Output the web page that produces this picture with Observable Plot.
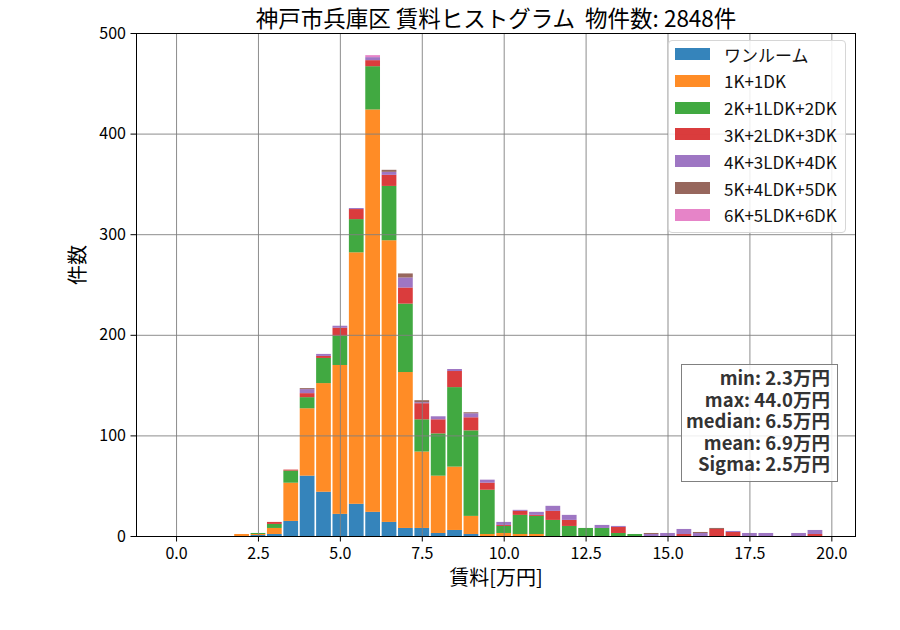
<!DOCTYPE html>
<html>
<head>
<meta charset="utf-8">
<script src="https://cdn.jsdelivr.net/npm/d3@7"></script>
<script src="https://cdn.jsdelivr.net/npm/@observablehq/plot@0.6"></script>
<style>
  body { margin: 0; background: #fff; font-family: "Noto Sans CJK JP", "Noto Sans", sans-serif; }
  #wrap { position: relative; width: 900px; height: 630px; }
  .legend { position: absolute; left: 668px; top: 40px; width: 178px; height: 193px;
    border: 1px solid #d6d6d6; border-radius: 4px; background: rgba(255,255,255,0.85); box-sizing: border-box; }
  .legend .row { position: absolute; left: 6px; height: 20px; display: flex; align-items: center; font-size: 17px; color: #111; }
  .legend .sw { width: 35px; height: 12px; margin-right: 14px; }
  .stats { position: absolute; left: 681px; top: 364px; width: 157px; height: 118px; box-sizing: border-box;
    border: 1px solid #808080; background: rgba(255,255,255,0.85); text-align: right; padding: 2px 7px 0 0;
    font-weight: bold; font-size: 18.5px; line-height: 21.6px; color: #333; }
</style>
</head>
<body>
<div id="wrap"></div>
<script>
// ---- data ----
const title = "神戸市兵庫区 賃料ヒストグラム  物件数: 2848件";
const xLabel = "賃料[万円]";
const yLabel = "件数";
const types = ["ワンルーム", "1K+1DK", "2K+1LDK+2DK", "3K+2LDK+3DK", "4K+3LDK+4DK", "5K+4LDK+5DK", "6K+5LDK+6DK"];
const colors = ["#1f77b4", "#ff7f0e", "#2ca02c", "#d62728", "#9467bd", "#8c564b", "#e377c2"];
// bin centres (width 0.5)
const bins = [2.0, 2.5, 3.0, 3.5, 4.0, 4.5, 5.0, 5.5, 6.0, 6.5, 7.0, 7.5, 8.0, 8.5, 9.0, 9.5,
  10.0, 10.5, 11.0, 11.5, 12.0, 12.5, 13.0, 13.5, 14.0, 14.5, 15.0, 15.5, 16.0, 16.5, 17.0, 17.5,
  18.0, 18.5, 19.0, 19.5];
const oneRoom = [0, 1, 2, 15, 60, 44, 22, 32, 24, 14, 8, 8, 3, 6, 2, 0,
  0, 0, 0, 0, 0, 0, 0, 0, 0, 0, 0, 0, 0, 0, 0, 0, 0, 0, 0, 0];
const k1 = [2, 1, 6, 38, 67, 108, 148, 250, 400, 280, 155, 76, 57, 63, 18, 2,
  3, 2, 2, 0, 0, 0, 0, 0, 0, 0, 0, 0, 0, 0, 0, 0, 0, 0, 0, 0];
const k2 = [0, 1, 4, 12, 11, 25, 29, 33, 43, 54, 68, 32, 42, 79, 85, 44,
  7, 19, 18, 16, 10, 8, 8, 3, 2, 0, 0, 0, 0, 0, 0, 0, 0, 0, 0, 0];
const k3 = [0, 0, 2, 1, 4, 2, 8, 10, 6, 11, 16, 16, 14, 16, 13, 7,
  1, 4, 1, 9, 6, 0, 0, 6, 0, 0, 0, 2, 0, 7, 4, 0, 0, 0, 0, 2];
const k4 = [0, 0, 0, 0, 4, 2, 2, 1, 3, 3, 10, 1, 3, 2, 4, 3,
  3, 1, 3, 5, 5, 0, 3, 1, 0, 2, 3, 5, 3, 0, 1, 3, 3, 0, 3, 4];
const k5 = [0, 0, 0, 0, 1, 0, 0, 0, 0, 2, 4, 2, 0, 0, 1, 0,
  0, 0, 0, 0, 0, 0, 0, 0, 0, 1, 0, 0, 1, 1, 0, 0, 0, 0, 0, 0];
const k6 = [0, 0, 0, 0, 0, 0, 0, 0, 2, 0, 0, 0, 0, 0, 0, 0,
  0, 0, 0, 0, 0, 0, 0, 0, 0, 0, 0, 0, 0, 0, 0, 0, 0, 0, 0, 0];
const xTicks = [0, 2.5, 5, 7.5, 10, 12.5, 15, 17.5, 20];
const yTicks = [0, 100, 200, 300, 400, 500];
const statsLines = ["min: 2.3万円", "max: 44.0万円", "median: 6.5万円", "mean: 6.9万円", "Sigma: 2.5万円"];

// ---- build stacked table ----
const series = [oneRoom, k1, k2, k3, k4, k5, k6];
const halfBar = 0.225;
const rows = [];
bins.forEach((b, i) => {
  let acc = 0;
  series.forEach((s, j) => {
    const v = s[i];
    if (v > 0) rows.push({x1: b - halfBar, x2: b + halfBar, y1: acc, y2: acc + v, type: types[j]});
    acc += v;
  });
});

const plot = Plot.plot({
  width: 900,
  height: 630,
  marginLeft: 136,
  marginRight: 45,
  marginTop: 33,
  marginBottom: 94,
  style: {fontFamily: "'Noto Sans CJK JP', 'Noto Sans', sans-serif", fontSize: "16px", color: "#000", background: "#fff"},
  x: {domain: [-1.2225, 20.7225]},
  y: {domain: [0, 500]},
  color: {domain: types, range: colors},
  marks: [
    Plot.rect(rows, {x1: "x1", x2: "x2", y1: "y1", y2: "y2", fill: "type", fillOpacity: 0.9}),
    Plot.gridX(xTicks, {stroke: "#808080", strokeOpacity: 1, strokeWidth: 0.9}),
    Plot.gridY(yTicks, {stroke: "#808080", strokeOpacity: 1, strokeWidth: 0.9}),
    Plot.frame({stroke: "#000", strokeWidth: 1}),
    Plot.axisX(xTicks, {tickFormat: d => d.toFixed(1), tickSize: 5.5, tickPadding: 6, label: null, fontSize: 16}),
    Plot.axisY(yTicks, {tickSize: 5.5, tickPadding: 5, label: null, fontSize: 16}),
    Plot.text([title], {frameAnchor: "top", dy: -22, fontSize: 22.5, fill: "#000"}),
    Plot.text([xLabel], {frameAnchor: "bottom", dy: 48, fontSize: 20, fill: "#000"}),
    Plot.text([yLabel], {frameAnchor: "left", dx: -58, rotate: -90, fontSize: 20, fill: "#000"})
  ]
});

const wrap = document.getElementById("wrap");
wrap.appendChild(plot);

// legend (inside the axes, upper right)
const leg = document.createElement("div");
leg.className = "legend";
types.forEach((t, i) => {
  const r = document.createElement("div");
  r.className = "row";
  r.style.top = (3 + i * 26.8) + "px";
  const sw = document.createElement("span");
  sw.className = "sw";
  sw.style.background = colors[i];
  sw.style.opacity = 0.9;
  const lb = document.createElement("span");
  lb.textContent = t;
  r.appendChild(sw); r.appendChild(lb);
  leg.appendChild(r);
});
wrap.appendChild(leg);

// statistics box
const st = document.createElement("div");
st.className = "stats";
st.innerHTML = statsLines.map(s => `<div>${s}</div>`).join("");
wrap.appendChild(st);
</script>
</body>
</html>
